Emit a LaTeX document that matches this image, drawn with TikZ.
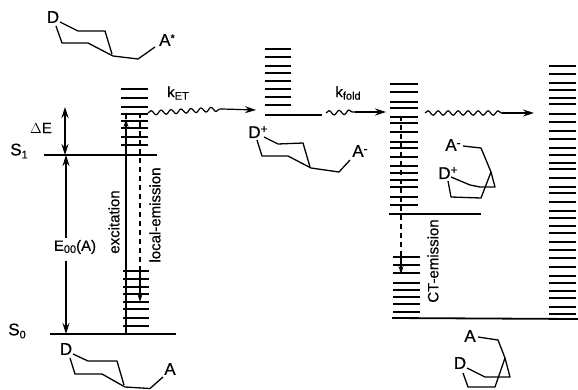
\documentclass[tikz,border=0pt]{standalone}
\usepackage{fontspec}
\setmainfont{Liberation Sans}[FakeBold=0.5]
\usetikzlibrary{arrows.meta,decorations.pathmorphing}
\tikzset{
  lev/.style={line width=1.7pt},
  bond/.style={line width=1.3pt,line join=round},
  base/.style={line width=1.8pt},
  tip/.style={-{Stealth[length=11pt,width=7pt]},line width=1.2pt},
  tipsmall/.style={-{Stealth[length=8pt,width=5pt]},line width=1.1pt},
  tipboth/.style={{Stealth[length=11pt,width=7pt]}-{Stealth[length=11pt,width=7pt]},line width=1.2pt},
  vert/.style={line width=1.2pt},
  dashline/.style={line width=1.1pt,dash pattern=on 5pt off 4pt},
  wavy/.style={line width=1.2pt,decorate,decoration={snake,amplitude=2.2pt,segment length=10pt}},
  lab/.style={inner sep=0pt,font=\fontsize{15}{15}\selectfont},
  big/.style={inner sep=0pt,font=\fontsize{17}{17}\selectfont}
}
\begin{document}
\begin{tikzpicture}[x=1pt,y=-1pt]
\useasboundingbox (0,0) rectangle (578,389);
% level stacks
\foreach \y in {89,98,107,114,121,128,137,145} \draw[lev] (121,\y) -- (148,\y);
\foreach \y in {271,279,287,294,302,309,318,326} \draw[lev] (123,\y) -- (149,\y);
\foreach \y in {49,57,66,73,81,89,97,105} \draw[lev] (265,\y) -- (291,\y);
\foreach \y in {84,92,102,108,117,123,132,142,148,157,166,173,180,187,197,205} \draw[lev] (390,\y) -- (418,\y);
\foreach \y in {257,265,273,283,290,297,304,312} \draw[lev] (393,\y) -- (420,\y);
\foreach \y in {66,74,83,90,98,104,114,122,131,139,148,155,163,169,178,187,193,202,211,218,226,233,242,250,258,267,276,283,291,298,307,314} \draw[lev] (549,\y) -- (576,\y);
% baselines
\coordinate (s1l) at (44,155); \coordinate (s1r) at (157,155);
\coordinate (s0l) at (50,334); \coordinate (s0r) at (176,334);
\draw[base] (s1l) -- (s1r);
\draw[base] (s0l) -- (s0r);
\coordinate (m1) at (265,115); \coordinate (m2) at (322,115);
\draw[base] (m1) -- (m2);
\coordinate (c1) at (389,214); \coordinate (c2) at (481,214);
\draw[base] (c1) -- (c2);
\coordinate (g1) at (392,318); \coordinate (g2) at (578,319);
\draw[base] (g1) -- (g2);
% labels
\node[big] (S1) at (19,151) {S\raisebox{-3pt}{\fontsize{11}{11}\selectfont 1}};
\node[big] (S0) at (17,331) {S\raisebox{-3pt}{\fontsize{11}{11}\selectfont 0}};
\node[lab] (dE) at (41,128) {$\Delta$E};
\node[lab] (E00) at (75,247) {E\raisebox{-2pt}{\fontsize{11}{11}\selectfont 00}(A)};
\node[lab] (ket) at (178,93) {k\raisebox{-2.5pt}{\fontsize{11}{11}\selectfont ET}};
\node[lab] (kf) at (348,93) {k\raisebox{-2.5pt}{\fontsize{11}{11}\selectfont fold}};
\node[lab,rotate=90] (exc) at (114,222) {excitation};
\node[lab,rotate=90] (loc) at (155,215) {local-emission};
\node[lab,rotate=90] (ct) at (433,261) {CT-emission};
% energy arrows
\coordinate (de1) at (65,107); \coordinate (de2) at (65,155);
\draw[tipboth] (de1) -- (de2);
\coordinate (e1) at (66,155); \coordinate (e2) at (66,334);
\coordinate (e1b) at (66,238); \coordinate (e2b) at (66,261);
\draw[tip] (e1b) -- (e1);
\draw[tip] (e2b) -- (e2);
% excitation and emissions
\coordinate (x1) at (126,334); \coordinate (x2) at (126,119); \coordinate (x3) at (126,113);
\draw[tipsmall] (x1) -- (x2);
\draw[vert] (x2) -- (x3);
\coordinate (l1) at (140,113); \coordinate (l2) at (140,271); \coordinate (l3) at (140,302);
\draw[dashline] (l1) -- (l2);
\draw[tipsmall] (l2) -- (l3);
\coordinate (t1) at (401,116); \coordinate (t2) at (401,257); \coordinate (t3) at (401,274);
\draw[dashline] (t1) -- (t2);
\draw[tipsmall] (t2) -- (t3);
% wavy arrows
\coordinate (w1a) at (148,113); \coordinate (w1b) at (222,109); \coordinate (w1c) at (256,110);
\draw[wavy] (w1a) -- (w1b);
\draw[tip] (w1b) -- (w1c);
\coordinate (w2a) at (326,113); \coordinate (w2b) at (355,112); \coordinate (w2c) at (386,112);
\draw[wavy] (w2a) -- (w2b);
\draw[tip] (w2b) -- (w2c);
\coordinate (w3a) at (425,113); \coordinate (w3b) at (502,113); \coordinate (w3c) at (534,113);
\draw[wavy] (w3a) -- (w3b);
\draw[tip] (w3b) -- (w3c);
% molecule top: D ... A*
\node[big] (Da) at (53,17) {D};
\node[big] (Aa) at (167,40) {A\raisebox{4pt}{\fontsize{11}{11}\selectfont *}};
\draw[bond] (60,22) -- (78,31) -- (105,31) -- (112,54);
\draw[bond] (56,26) -- (62,43) -- (88,43) -- (113,56) -- (138,59) -- (155,47);
% molecule middle: D+ ... A-
\node[big] (Db) at (258,132) {D\raisebox{5pt}{\fontsize{12}{12}\selectfont +}};
\node[big] (Ab) at (360,151) {A\raisebox{4pt}{\fontsize{12}{12}\selectfont -}};
\draw[bond] (264,137) -- (278,144) -- (303,143) -- (310,167);
\draw[bond] (257,140) -- (262,156) -- (288,156) -- (311,168) -- (339,172) -- (350,160);
% molecule right: folded, charged
\node[big] (Ac) at (453,145) {A\raisebox{4pt}{\fontsize{12}{12}\selectfont -}};
\node[big] (Dc) at (448,173) {D\raisebox{5pt}{\fontsize{12}{12}\selectfont +}};
\draw[bond] (463,146) -- (481,148) -- (491,172) -- (495,187) -- (480,187) -- (470,185) -- (451,177);
\draw[bond] (448,181) -- (451,197) -- (481,198) -- (491,172);
% molecule bottom left
\node[big] (Dd) at (66,349) {D};
\node[big] (Ad) at (170,369) {A};
\draw[bond] (73,354) -- (88,361) -- (117,361) -- (124,385);
\draw[bond] (70,358) -- (75,374) -- (102,374) -- (125,387) -- (150,388.5) -- (163,377);
% molecule bottom right
\node[big] (Ae) at (470,336) {A};
\node[big] (De) at (460,363) {D};
\draw[bond] (478,337) -- (498,340) -- (505,358) -- (510,377) -- (496,377) -- (485,377) -- (467,368);
\draw[bond] (463,373) -- (468,387) -- (495,387) -- (505,358);
\end{tikzpicture}
\end{document}
